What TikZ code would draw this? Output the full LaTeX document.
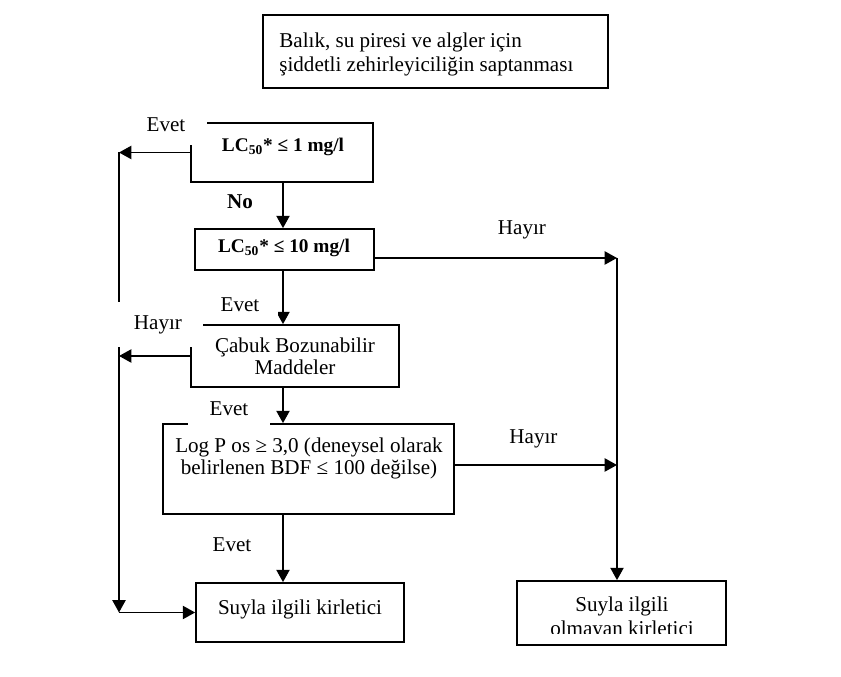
\documentclass[tikz,border=0pt]{standalone}
\usepackage{fontspec}
\setmainfont{Liberation Serif}
\usepackage{tikz}
\usetikzlibrary{arrows.meta}
\newcommand{\pxu}{0.2mm}

\begin{document}
\begin{tikzpicture}
	[x=0.2mm,y=-0.2mm,
	kutu/.style={draw=black,line width=1pt,inner sep=0pt},
	yazi/.style={align=center,inner sep=0pt,font=\fontsize{12}{12.5}\selectfont},
	kalin/.style={inner sep=0pt,font=\fontsize{11}{13}\selectfont\bfseries},
	etiket/.style={fill=white,inner sep=0pt,font=\fontsize{12}{14}\selectfont},
	ok/.style={black,line width=0.9pt,-{Triangle[length=7pt,width=7.5pt]}}]
\useasboundingbox (0,0) rectangle (841,677);
%kutular
\node (baslik) at (435.5,51.5) [kutu,minimum width=345*\pxu,minimum height=73*\pxu] {};
\node (kutu1) at (282,152.5) [kutu,minimum width=182*\pxu,minimum height=59*\pxu] {};
\node (kutu2) at (284.5,249.5) [kutu,minimum width=179*\pxu,minimum height=41*\pxu] {};
\node (kutu3) at (295,356) [kutu,minimum width=208*\pxu,minimum height=62*\pxu] {};
\node (kutu4) at (308.5,469) [kutu,minimum width=291*\pxu,minimum height=90*\pxu] {};
\node (kutu5) at (300,612.5) [kutu,minimum width=208*\pxu,minimum height=59*\pxu] {};
\node (kutu6) at (621.5,613) [kutu,minimum width=209*\pxu,minimum height=64*\pxu] {};
%yazilar
\node (baslikyazi) at (279,33) [anchor=north west,inner sep=0pt,align=left,
	font=\fontsize{12}{13.6}\selectfont] {Balık, su piresi ve algler için\\şiddetli zehirleyiciliğin saptanması};
\node (yazi1) at (283,147) [kalin] {LC\textsubscript{50}* ≤ 1 mg/l};
\node (yazi2) at (284,248) [kalin] {LC\textsubscript{50}* ≤ 10 mg/l};
\node (yazi3) at (295,356) [yazi] {Çabuk Bozunabilir\\Maddeler};
\node (yazi4) at (309,458) [yazi] {Log P os ≥ 3,0 (deneysel olarak\\belirlenen BDF ≤ 100 değilse)};
\node (yazi5) at (300,609) [yazi] {Suyla ilgili kirletici};
\begin{scope}
\clip (kutu6.north west) rectangle (kutu6.east |- 0,634);
\node (yazi6) at (622,618) [yazi,font=\fontsize{12}{13.7}\selectfont] {Suyla ilgili\\olmayan kirletici};
\end{scope}
%oklar
\coordinate (orta) at (283,0);
\coordinate (sol) at (119,0);
\coordinate (sag1) at (617,258);
\coordinate (sag2) at (617,465);
\draw[ok] (orta |- kutu1.south) -- (orta |- kutu2.north);
\draw[ok] (orta |- kutu2.south) -- (orta |- kutu3.north);
\draw[ok] (orta |- kutu3.south) -- (orta |- kutu4.north);
\draw[ok] (orta |- kutu4.south) -- (orta |- kutu5.north);
\draw[ok] (kutu1.west) -- (sol |- kutu1.west);
\draw[ok] (kutu3.west) -- (sol |- kutu3.west);
\draw[ok] (sol |- kutu1.west) -- (sol |- kutu5.west);
\draw[ok] (sol |- kutu5.west) -- (kutu5.west);
\draw[ok] (kutu2.east |- sag1) -- (sag1);
\draw[ok] (kutu4.east |- sag2) -- (sag2);
\draw[ok] (sag1) -- (sag1 |- kutu6.north);
%etiketler
\node (evet1) at (166,125) [etiket,minimum width=82*\pxu,minimum height=40*\pxu] {Evet};
\node (no) at (240,202) [kalin,font=\fontsize{12}{14}\selectfont\bfseries] {No};
\node (hayir1) at (522,229.5) [etiket,minimum width=118*\pxu,minimum height=45*\pxu] {Hayır};
\node (evet2) at (240,305) [etiket,minimum width=76*\pxu,minimum height=36*\pxu] {Evet};
\node (hayir2) at (158,325) [etiket,minimum width=90*\pxu,minimum height=45*\pxu] {Hayır};
\node (evet3) at (229,409) [etiket,minimum width=82*\pxu,minimum height=39*\pxu] {Evet};
\node (hayir3) at (533.5,439) [etiket,minimum width=123*\pxu,minimum height=40*\pxu] {Hayır};
\node (evet4) at (232,545) [etiket,minimum width=82*\pxu,minimum height=41*\pxu] {Evet};
\end{tikzpicture}
\end{document}
